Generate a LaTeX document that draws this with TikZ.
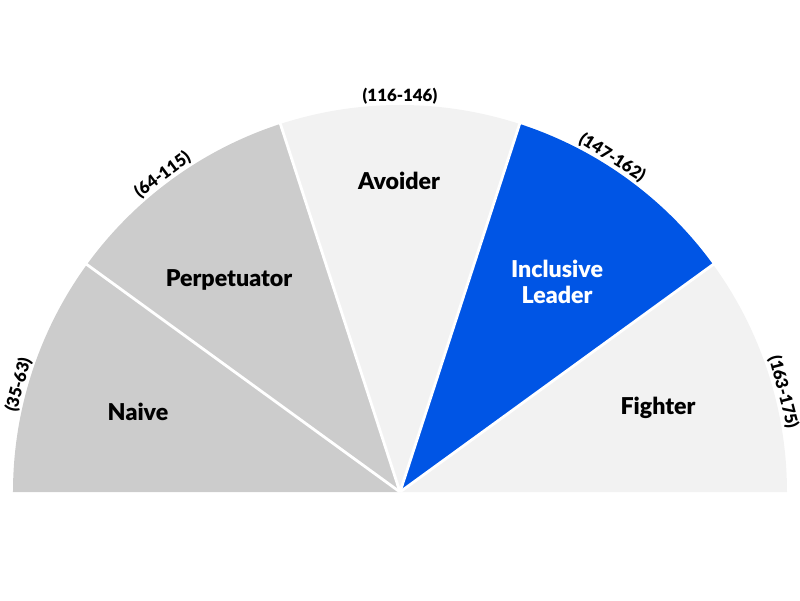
\documentclass[tikz,border=0pt]{standalone}
\usepackage{fontspec}
\setmainfont{Lato}[BoldFont={Lato Black}]
\definecolor{wedgegray}{HTML}{CCCCCC}
\definecolor{wedgelight}{HTML}{F2F2F2}
\definecolor{wedgeblue}{HTML}{0055E5}
\tikzset{
  wedge/.style={draw=white, line width=2pt},
  typename/.style={font=\fontsize{16.5}{18}\selectfont\bfseries, align=center, inner sep=0pt},
  scorerange/.style={font=\fontsize{12}{14}\selectfont\bfseries, anchor=south, inner sep=0pt}
}
\begin{document}
\begin{tikzpicture}[x=1cm,y=1cm]
\useasboundingbox (-10,-2.7) rectangle (10,12.3);
\def\rad{9.675}
% wedges
\fill[wedgegray] (0,0) -- (180:\rad) arc (180:144:\rad) -- cycle;
\fill[wedgegray] (0,0) -- (144:\rad) arc (144:108:\rad) -- cycle;
\fill[wedgelight] (0,0) -- (108:\rad) arc (108:72:\rad) -- cycle;
\fill[wedgeblue] (0,0) -- (72:\rad) arc (72:36:\rad) -- cycle;
\fill[wedgelight] (0,0) -- (36:\rad) arc (36:0:\rad) -- cycle;
% separators
\foreach \a in {36,72,108,144}
  \draw[wedge] (0,0) -- (\a:\rad+0.1);
% type names
\node[typename] (naive) at (-6.55,2.0) {Naive};
\node[typename] (perpetuator) at (-4.275,5.3) {Perpetuator};
\node[typename] (avoider) at (-0.025,7.775) {Avoider};
\node[typename, text=white] (leader) at (3.925,5.25) {Inclusive\\Leader};
\node[typename] (fighter) at (6.45,2.1) {Fighter};
% score ranges
\node[scorerange, rotate=74.3] (rnaive) at (164.3:\rad+0.02) {(35-63)};
\node[scorerange, rotate=36.8] (rperp) at (126.8:\rad+0.02) {(64-115)};
\node[scorerange] (ravoid) at (90:\rad+0.02) {(116-146)};
\node[scorerange, rotate=-32.4] (rleader) at (57.6:\rad+0.02) {(147-162)};
\node[scorerange, rotate=-75.4] (rfight) at (14.6:\rad+0.02) {(163-175)};
\end{tikzpicture}
\end{document}
